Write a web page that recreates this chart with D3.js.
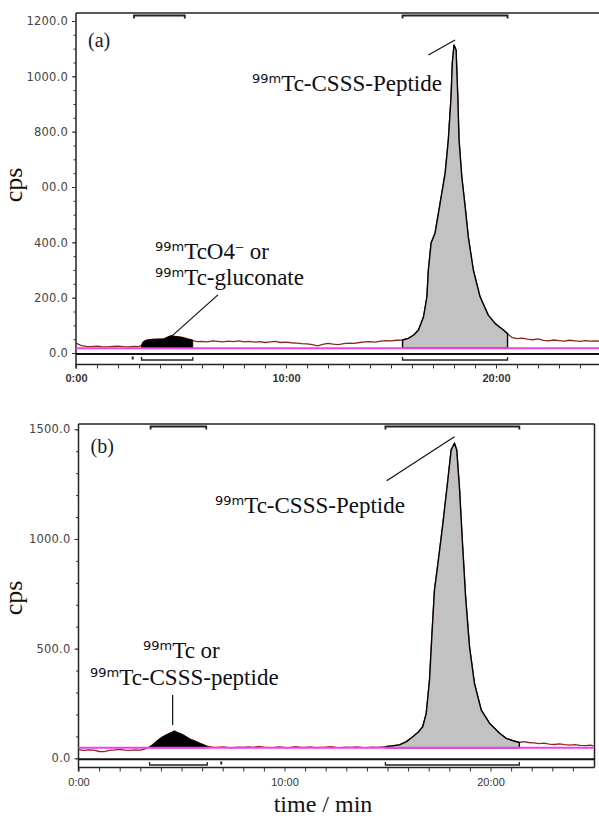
<!DOCTYPE html>
<html>
<head>
<meta charset="utf-8">
<script src="https://cdn.jsdelivr.net/npm/d3@7"></script>
<style>
  body { margin: 0; background: #fff; }
  svg { display: block; }
</style>
</head>
<body>
<svg id="chart" width="599" height="818"></svg>
<script>
// ---- panel (a) : [time (min), cps] ----
var traceA = [
  [0, 36], [0.25, 27], [0.5, 24], [0.75, 23], [1.0, 25], [1.25, 23], [1.5, 22], [1.75, 24],
  [2.0, 25], [2.25, 23], [2.5, 22], [2.75, 24], [3.0, 23], [3.12, 28], [3.2, 40], [3.33, 46],
  [3.6, 49], [3.9, 50], [4.19, 51], [4.35, 57], [4.51, 62], [4.7, 60], [4.9, 58], [5.07, 56],
  [5.3, 51], [5.54, 47], [5.56, 45], [5.75, 41], [6.0, 42], [6.25, 40], [6.5, 44], [6.75, 42],
  [7.0, 40], [7.25, 43], [7.5, 41], [7.75, 44], [8.0, 40], [8.25, 42], [8.5, 39], [8.75, 41],
  [9.0, 38], [9.25, 40], [9.5, 42], [9.75, 38], [10.0, 39], [10.25, 37], [10.5, 36], [10.75, 34],
  [11.0, 33], [11.25, 30], [11.5, 26], [11.75, 31], [12.0, 35], [12.25, 32], [12.5, 30], [12.75, 34],
  [13.0, 36], [13.25, 35], [13.5, 38], [13.75, 40], [14.0, 41], [14.25, 39], [14.5, 43], [14.75, 45],
  [15.0, 44], [15.25, 46], [15.55, 47], [15.83, 53], [16.1, 66], [16.31, 83], [16.55, 131], [16.71, 203],
  [16.78, 300], [16.91, 398], [17.1, 434], [17.34, 542], [17.58, 651], [17.73, 770], [17.86, 926], [17.92, 1048],
  [18.0, 1113], [18.1, 1095], [18.18, 926], [18.24, 770], [18.37, 637], [18.53, 529], [18.68, 420], [18.92, 300],
  [19.24, 203], [19.63, 137], [19.95, 107], [20.35, 83], [20.55, 70], [20.75, 56], [21.0, 52], [21.25, 54],
  [21.5, 50], [21.75, 48], [22.0, 51], [22.25, 46], [22.5, 44], [22.75, 47], [23.0, 45], [23.25, 43],
  [23.5, 46], [23.75, 44], [24.0, 42], [24.25, 45], [24.5, 43], [24.75, 44], [25.0, 42]
];
var baselineA = 17;
var peaksA = [[3.12, 5.56], [15.55, 20.55]];
var topMarksA = [[2.76, 5.18], [15.55, 20.55]];
var dotsA = [2.7];
var yTicksA = [0, 200, 400, 600, 800, 1000, 1200];
var yLabelsA = ["0.0", "200.0", "400.0", "00.0", "800.0", "1000.0", "1200.0"];

// ---- panel (b) ----
var traceB = [
  [0, 40], [0.25, 36], [0.5, 38], [0.75, 37], [1.0, 31], [1.25, 30], [1.5, 36], [1.75, 38],
  [2.0, 41], [2.25, 37], [2.5, 36], [2.75, 38], [3.0, 37], [3.2, 42], [3.45, 52], [3.6, 62],
  [3.77, 76], [3.9, 86], [4.09, 98], [4.25, 106], [4.42, 114], [4.55, 119], [4.66, 124], [4.78, 118],
  [4.9, 114], [5.05, 108], [5.23, 98], [5.4, 88], [5.63, 79], [5.9, 68], [6.25, 55], [6.5, 51],
  [6.75, 50], [7.0, 52], [7.25, 50], [7.5, 49], [7.75, 51], [8.0, 50], [8.25, 52], [8.5, 50],
  [8.75, 54], [9.0, 51], [9.25, 49], [9.5, 50], [9.75, 52], [10.0, 50], [10.25, 49], [10.5, 53],
  [10.75, 51], [11.0, 50], [11.25, 52], [11.5, 49], [11.75, 50], [12.0, 51], [12.25, 53], [12.5, 50],
  [12.75, 49], [13.0, 51], [13.25, 50], [13.5, 52], [13.75, 50], [14.0, 49], [14.25, 51], [14.5, 50],
  [14.75, 52], [14.9, 53], [15.2, 56], [15.58, 61], [15.9, 75], [16.23, 98], [16.5, 120], [16.71, 144],
  [16.88, 205], [17.04, 357], [17.17, 585], [17.28, 767], [17.49, 919], [17.69, 1071], [17.93, 1269], [18.09, 1406],
  [18.25, 1436], [18.36, 1406], [18.5, 1223], [18.63, 995], [18.79, 737], [18.98, 509], [19.22, 342], [19.55, 220],
  [19.95, 160], [20.44, 114], [20.76, 91], [21.1, 80], [21.4, 72], [21.6, 76], [21.85, 72], [22.1, 70],
  [22.35, 67], [22.6, 69], [22.85, 65], [23.1, 63], [23.35, 66], [23.6, 62], [23.85, 60], [24.1, 62],
  [24.35, 59], [24.6, 58], [24.85, 60], [25.0, 57]
];
var baselineB = 48;
var peaksB = [[3.45, 6.25], [14.9, 21.4]];
var topMarksB = [[3.5, 6.2], [14.9, 21.4]];
var dotsB = [6.93];
var yTicksB = [0, 500, 1000, 1500];
var yLabelsB = ["0.0", "500.0", "1000.0", "1500.0"];

var xTicks = [0, 10, 20];
var xLabels = ["0:00", "10:00", "20:00"];

var svg = d3.select("#chart");
var serif = "'Liberation Serif', 'Times New Roman', serif";
var sans = "'DejaVu Sans', Verdana, sans-serif";

function drawPanel(p) {
  var g = svg.append("g");
  var x = d3.scaleLinear().domain([0, 25]).range([p.left, p.left + 25 * p.pxMin]);
  var y = d3.scaleLinear().domain([0, p.yMax]).range([p.y0, p.yMaxPx]);
  var ax = x(0);

  // frame
  g.append("line").attr("x1", ax).attr("x2", p.right).attr("y1", p.top).attr("y2", p.top)
    .attr("stroke", "#222").attr("stroke-width", 1.5);
  g.append("line").attr("x1", ax).attr("x2", ax).attr("y1", p.top).attr("y2", p.axisY + 4)
    .attr("stroke", "#222").attr("stroke-width", 1.5);
  if (p.rightBorder) {
    g.append("line").attr("x1", p.right).attr("x2", p.right).attr("y1", p.top).attr("y2", p.axisY)
      .attr("stroke", "#222").attr("stroke-width", 1.5);
  }
  g.append("line").attr("x1", ax).attr("x2", p.right).attr("y1", y(0) + 1).attr("y2", y(0) + 1)
    .attr("stroke", "#111").attr("stroke-width", 2);
  g.append("line").attr("x1", ax).attr("x2", p.right).attr("y1", p.axisY).attr("y2", p.axisY)
    .attr("stroke", "#222").attr("stroke-width", 1.3);

  // y axis: minor then major ticks
  var minor = d3.range(0, p.yMax + 1, p.minorStep);
  g.append("g").attr("transform", "translate(" + ax + ",0)")
    .call(d3.axisLeft(y).tickValues(minor).tickSize(2.5).tickFormat(""))
    .call(function(s){ s.select(".domain").remove(); s.selectAll("line").attr("stroke", "#333"); });
  g.append("g").attr("transform", "translate(" + ax + ",0)")
    .call(d3.axisLeft(y).tickValues(p.yTicks).tickSize(4).tickPadding(4)
      .tickFormat(function(d, i){ return p.yLabels[i]; }))
    .call(function(s){
      s.select(".domain").remove();
      s.selectAll("line").attr("stroke", "#333");
      s.selectAll("text").attr("font-family", sans).attr("font-size", 11.5)
        .attr("fill", "#444").attr("letter-spacing", "0.2");
    });

  // x axis
  g.append("g").attr("transform", "translate(0," + p.axisY + ")")
    .call(d3.axisBottom(x).tickValues(d3.range(0, 25, 1)).tickSize(4)
      .tickFormat(function(d){ var i = xTicks.indexOf(d); return i >= 0 ? xLabels[i] : ""; }))
    .call(function(s){
      s.select(".domain").remove();
      s.selectAll("line").attr("stroke", "#333");
      s.selectAll("text").attr("y", p.xLabelY - p.axisY).attr("dy", "0.35em")
        .attr("font-family", "'Liberation Sans', Arial, sans-serif").attr("font-size", 11)
        .attr("font-weight", p.boldX ? "bold" : "normal").attr("fill", "#333");
    });

  // raw trace
  var line = d3.line().x(function(d){ return x(d[0]); }).y(function(d){ return y(d[1]); });
  g.append("path").datum(p.trace).attr("d", line)
    .attr("fill", "none").attr("stroke", "#8e2620").attr("stroke-width", 1.3);

  // integrated peaks
  var area = d3.area().x(function(d){ return x(d[0]); })
    .y0(y(p.base)).y1(function(d){ return y(d[1]); });
  p.peaks.forEach(function(r, i){
    var pts = p.trace.filter(function(d){ return d[0] >= r[0] && d[0] <= r[1]; });
    g.append("path").datum(pts).attr("d", area)
      .attr("fill", i === 0 ? "#000" : "#c2c2c2")
      .attr("stroke", "#000").attr("stroke-width", i === 0 ? 0.8 : 1.4)
      .attr("stroke-linejoin", "round");
  });

  // baseline
  g.append("line").attr("x1", ax).attr("x2", Math.min(x(25), p.right))
    .attr("y1", y(p.base)).attr("y2", y(p.base))
    .attr("stroke", "#f23fe6").attr("stroke-width", 2);

  // brackets above plot
  p.topMarks.forEach(function(r){
    g.append("path")
      .attr("d", "M" + x(r[0]) + "," + (p.topBrY + 3) + "V" + p.topBrY + "H" + x(r[1]) + "V" + (p.topBrY + 3))
      .attr("fill", "none").attr("stroke", "#222").attr("stroke-width", 1.8);
  });
  // brackets below plot
  p.peaks.forEach(function(r){
    g.append("path")
      .attr("d", "M" + x(r[0]) + "," + (p.botBrY - 3) + "V" + p.botBrY + "H" + x(r[1]) + "V" + (p.botBrY - 3))
      .attr("fill", "none").attr("stroke", "#222").attr("stroke-width", 1.3);
  });
  p.dots.forEach(function(t){
    g.append("rect").attr("x", x(t) - 1).attr("y", p.botBrY - 3.5).attr("width", 2).attr("height", 3)
      .attr("fill", "#222");
  });

  // leader lines
  p.leaders.forEach(function(l){
    g.append("line").attr("x1", x(l[0])).attr("y1", y(l[1])).attr("x2", x(l[2])).attr("y2", y(l[3]))
      .attr("stroke", "#111").attr("stroke-width", 1.2);
  });

  // annotation text
  p.notes.forEach(function(n){
    var t = g.append("text").attr("x", n.x).attr("y", n.y)
      .attr("font-family", serif).attr("font-size", 23).attr("fill", "#0e0e18");
    t.append("tspan").attr("font-family", sans).attr("font-size", 13).attr("dy", -8).text("99m");
    t.append("tspan").attr("dy", 8).text(n.text);
    if (n.sup) {
      t.append("tspan").attr("font-size", 16).attr("dy", -6).text(n.sup);
      t.append("tspan").attr("dy", 6).text(n.after);
    }
  });

  g.append("text").attr("x", p.left + 12).attr("y", p.tagY)
    .attr("font-family", serif).attr("font-size", 20).attr("fill", "#1a1a30").text(p.tag);

  g.append("text").attr("transform", "translate(" + 22 + "," + p.cpsY + ") rotate(-90)")
    .attr("text-anchor", "middle").attr("font-family", serif).attr("font-size", 26)
    .attr("fill", "#111").text("cps");
}

drawPanel({
  trace: traceA, base: baselineA, peaks: peaksA, topMarks: topMarksA, dots: dotsA,
  yTicks: yTicksA, yLabels: yLabelsA, yMax: 1200, minorStep: 50,
  left: 76, pxMin: 21.0, y0: 353, yMaxPx: 21, top: 13, right: 599, rightBorder: false,
  axisY: 364.5, xLabelY: 378, boldX: true, topBrY: 15.5, botBrY: 360,
  tag: "(a)", tagY: 47, cpsY: 185,
  leaders: [[16.78, 1077, 18.05, 1131], [6.76, 210, 4.56, 61]],
  notes: [
    { x: 252, y: 91, text: "Tc-CSSS-Peptide" },
    { x: 155, y: 259, text: "TcO4", sup: "\u2212", after: " or" },
    { x: 155, y: 285, text: "Tc-gluconate" }
  ]
});

drawPanel({
  trace: traceB, base: baselineB, peaks: peaksB, topMarks: topMarksB, dots: dotsB,
  yTicks: yTicksB, yLabels: yLabelsB, yMax: 1500, minorStep: 100,
  left: 78.5, pxMin: 20.6, y0: 758.3, yMaxPx: 429.3, top: 424, right: 594.5, rightBorder: true,
  axisY: 767.5, xLabelY: 782.5, boldX: false, topBrY: 426.5, botBrY: 765,
  tag: "(b)", tagY: 453, cpsY: 598,
  leaders: [[14.96, 1265, 18.25, 1466], [4.57, 289, 4.57, 152]],
  notes: [
    { x: 215, y: 513, text: "Tc-CSSS-Peptide" },
    { x: 143, y: 658, text: "Tc or" },
    { x: 90, y: 685, text: "Tc-CSSS-peptide" }
  ]
});

svg.append("text").attr("x", 323).attr("y", 812).attr("text-anchor", "middle")
  .attr("font-family", serif).attr("font-size", 24).attr("fill", "#111").text("time / min");
</script>
</body>
</html>
